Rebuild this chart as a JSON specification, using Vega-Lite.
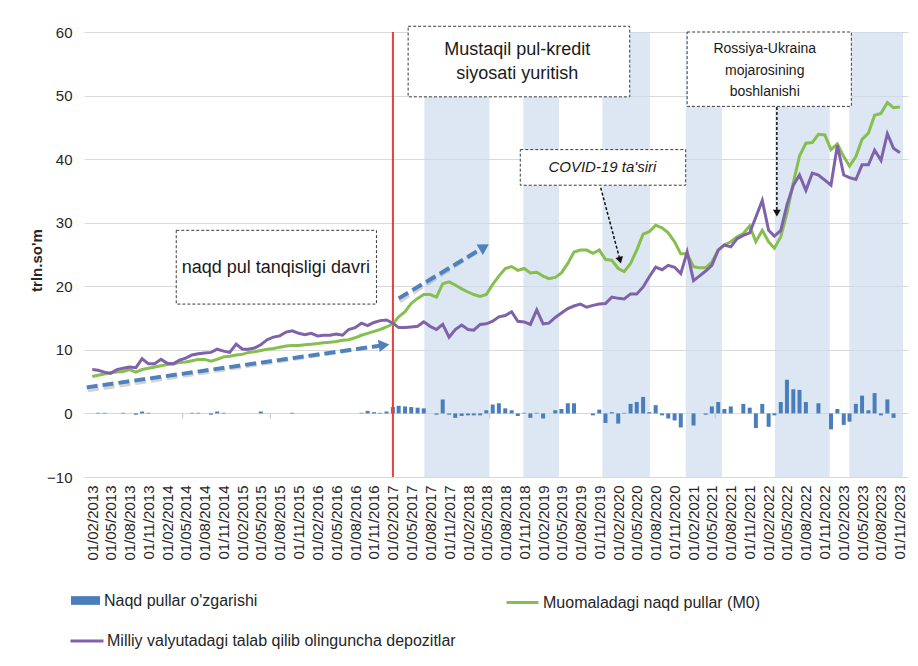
{
"$schema": "https://vega.github.io/schema/vega-lite/v6.json",
"width": 824, "height": 445,
"autosize": {"type": "none"},
"padding": {"left": 84, "top": 32, "right": 10, "bottom": 189},
"background": "white",
"config": {"font": "Liberation Sans", "view": {"stroke": null}},
"datasets": {"main": [
{"d":"2013-02-01","m0":5.8,"dep":6.9,"chg":0},
{"d":"2013-03-01","m0":6.0,"dep":6.8,"chg":0.1},
{"d":"2013-04-01","m0":6.2,"dep":6.5,"chg":0.1},
{"d":"2013-05-01","m0":6.4,"dep":6.3,"chg":0},
{"d":"2013-06-01","m0":6.5,"dep":6.9,"chg":0},
{"d":"2013-07-01","m0":6.6,"dep":7.1,"chg":0.1},
{"d":"2013-08-01","m0":6.9,"dep":7.3,"chg":0},
{"d":"2013-09-01","m0":6.5,"dep":7.2,"chg":-0.2},
{"d":"2013-10-01","m0":6.9,"dep":8.6,"chg":0.3},
{"d":"2013-11-01","m0":7.1,"dep":7.8,"chg":0.1},
{"d":"2013-12-01","m0":7.3,"dep":7.8,"chg":0},
{"d":"2014-01-01","m0":7.5,"dep":8.5,"chg":0},
{"d":"2014-02-01","m0":7.7,"dep":7.9,"chg":0},
{"d":"2014-03-01","m0":7.8,"dep":7.8,"chg":0},
{"d":"2014-04-01","m0":8.0,"dep":8.4,"chg":0},
{"d":"2014-05-01","m0":8.1,"dep":8.7,"chg":0},
{"d":"2014-06-01","m0":8.3,"dep":9.2,"chg":0.1},
{"d":"2014-07-01","m0":8.5,"dep":9.4,"chg":0.1},
{"d":"2014-08-01","m0":8.5,"dep":9.5,"chg":0},
{"d":"2014-09-01","m0":8.2,"dep":9.6,"chg":-0.2},
{"d":"2014-10-01","m0":8.5,"dep":10.1,"chg":0.3},
{"d":"2014-11-01","m0":8.9,"dep":9.8,"chg":0.1},
{"d":"2014-12-01","m0":9.0,"dep":9.6,"chg":0},
{"d":"2015-01-01","m0":9.2,"dep":10.9,"chg":0},
{"d":"2015-02-01","m0":9.3,"dep":10.1,"chg":0},
{"d":"2015-03-01","m0":9.6,"dep":10.1,"chg":0},
{"d":"2015-04-01","m0":9.7,"dep":10.3,"chg":0},
{"d":"2015-05-01","m0":9.9,"dep":10.8,"chg":0.3},
{"d":"2015-06-01","m0":10.1,"dep":11.6,"chg":0},
{"d":"2015-07-01","m0":10.2,"dep":12.0,"chg":0},
{"d":"2015-08-01","m0":10.4,"dep":12.2,"chg":0},
{"d":"2015-09-01","m0":10.6,"dep":12.8,"chg":0},
{"d":"2015-10-01","m0":10.7,"dep":13.0,"chg":0.1},
{"d":"2015-11-01","m0":10.7,"dep":12.6,"chg":0},
{"d":"2015-12-01","m0":10.8,"dep":12.4,"chg":0},
{"d":"2016-01-01","m0":10.9,"dep":12.6,"chg":0},
{"d":"2016-02-01","m0":11.0,"dep":12.2,"chg":0},
{"d":"2016-03-01","m0":11.1,"dep":12.3,"chg":0},
{"d":"2016-04-01","m0":11.2,"dep":12.3,"chg":0},
{"d":"2016-05-01","m0":11.3,"dep":12.5,"chg":0},
{"d":"2016-06-01","m0":11.5,"dep":12.3,"chg":0},
{"d":"2016-07-01","m0":11.6,"dep":13.2,"chg":0},
{"d":"2016-08-01","m0":11.9,"dep":13.5,"chg":0},
{"d":"2016-09-01","m0":12.3,"dep":14.2,"chg":0.1},
{"d":"2016-10-01","m0":12.6,"dep":13.8,"chg":0.4},
{"d":"2016-11-01","m0":12.9,"dep":14.3,"chg":0.2},
{"d":"2016-12-01","m0":13.2,"dep":14.6,"chg":0.1},
{"d":"2017-01-01","m0":13.6,"dep":14.7,"chg":0.3},
{"d":"2017-02-01","m0":14.1,"dep":14.2,"chg":1.0},
{"d":"2017-03-01","m0":15.2,"dep":13.5,"chg":1.2},
{"d":"2017-04-01","m0":16.0,"dep":13.5,"chg":1.1},
{"d":"2017-05-01","m0":17.3,"dep":13.6,"chg":1.0},
{"d":"2017-06-01","m0":18.1,"dep":13.7,"chg":0.9},
{"d":"2017-07-01","m0":18.7,"dep":14.4,"chg":0.8},
{"d":"2017-08-01","m0":18.7,"dep":13.7,"chg":0},
{"d":"2017-09-01","m0":18.3,"dep":13.2,"chg":-0.2},
{"d":"2017-10-01","m0":20.4,"dep":14.0,"chg":2.2},
{"d":"2017-11-01","m0":20.7,"dep":12.0,"chg":-0.2},
{"d":"2017-12-01","m0":20.2,"dep":13.2,"chg":-0.7},
{"d":"2018-01-01","m0":19.6,"dep":13.9,"chg":-0.4},
{"d":"2018-02-01","m0":19.1,"dep":13.2,"chg":-0.3},
{"d":"2018-03-01","m0":18.7,"dep":13.1,"chg":-0.3},
{"d":"2018-04-01","m0":18.4,"dep":14.0,"chg":-0.3},
{"d":"2018-05-01","m0":18.7,"dep":14.1,"chg":0.5},
{"d":"2018-06-01","m0":20.3,"dep":14.5,"chg":1.4},
{"d":"2018-07-01","m0":21.6,"dep":15.2,"chg":1.6},
{"d":"2018-08-01","m0":22.8,"dep":15.4,"chg":0.8},
{"d":"2018-09-01","m0":23.1,"dep":16.0,"chg":0.5},
{"d":"2018-10-01","m0":22.5,"dep":14.5,"chg":-0.4},
{"d":"2018-11-01","m0":22.8,"dep":14.4,"chg":0.1},
{"d":"2018-12-01","m0":22.1,"dep":14.0,"chg":-0.7},
{"d":"2019-01-01","m0":22.2,"dep":16.3,"chg":0.1},
{"d":"2019-02-01","m0":21.6,"dep":14.1,"chg":-0.8},
{"d":"2019-03-01","m0":21.2,"dep":14.2,"chg":0},
{"d":"2019-04-01","m0":21.4,"dep":15.1,"chg":0.5},
{"d":"2019-05-01","m0":22.1,"dep":15.8,"chg":0.7},
{"d":"2019-06-01","m0":23.6,"dep":16.5,"chg":1.6},
{"d":"2019-07-01","m0":25.4,"dep":16.9,"chg":1.6},
{"d":"2019-08-01","m0":25.7,"dep":17.2,"chg":0},
{"d":"2019-09-01","m0":25.7,"dep":16.7,"chg":0},
{"d":"2019-10-01","m0":25.2,"dep":17.0,"chg":-0.3},
{"d":"2019-11-01","m0":25.7,"dep":17.2,"chg":0.6},
{"d":"2019-12-01","m0":24.2,"dep":17.3,"chg":-1.5},
{"d":"2020-01-01","m0":24.1,"dep":18.3,"chg":0.2},
{"d":"2020-02-01","m0":22.8,"dep":18.1,"chg":-1.6},
{"d":"2020-03-01","m0":22.3,"dep":18.0,"chg":0.1},
{"d":"2020-04-01","m0":23.6,"dep":18.8,"chg":1.5},
{"d":"2020-05-01","m0":25.7,"dep":18.8,"chg":1.8},
{"d":"2020-06-01","m0":28.2,"dep":19.9,"chg":2.6},
{"d":"2020-07-01","m0":28.6,"dep":21.5,"chg":0.2},
{"d":"2020-08-01","m0":29.6,"dep":23.0,"chg":1.3},
{"d":"2020-09-01","m0":29.2,"dep":22.6,"chg":-0.3},
{"d":"2020-10-01","m0":28.4,"dep":23.3,"chg":-0.8},
{"d":"2020-11-01","m0":27.0,"dep":23.0,"chg":-1.1},
{"d":"2020-12-01","m0":25.1,"dep":22.0,"chg":-2.2},
{"d":"2021-01-01","m0":25.1,"dep":25.4,"chg":0},
{"d":"2021-02-01","m0":23.1,"dep":20.9,"chg":-1.9},
{"d":"2021-03-01","m0":22.9,"dep":21.6,"chg":0},
{"d":"2021-04-01","m0":22.9,"dep":22.4,"chg":-0.2},
{"d":"2021-05-01","m0":23.8,"dep":23.3,"chg":1.1},
{"d":"2021-06-01","m0":25.7,"dep":25.7,"chg":1.8},
{"d":"2021-07-01","m0":26.5,"dep":26.5,"chg":0.7},
{"d":"2021-08-01","m0":27.0,"dep":26.2,"chg":1.1},
{"d":"2021-09-01","m0":27.8,"dep":27.5,"chg":0},
{"d":"2021-10-01","m0":28.3,"dep":28.0,"chg":1.5},
{"d":"2021-11-01","m0":29.5,"dep":28.4,"chg":0.9},
{"d":"2021-12-01","m0":27.0,"dep":30.9,"chg":-2.3},
{"d":"2022-01-01","m0":28.8,"dep":33.5,"chg":1.5},
{"d":"2022-02-01","m0":27.0,"dep":28.8,"chg":-2.1},
{"d":"2022-03-01","m0":26.0,"dep":27.9,"chg":-0.3},
{"d":"2022-04-01","m0":27.8,"dep":28.8,"chg":1.8},
{"d":"2022-05-01","m0":31.5,"dep":32.8,"chg":5.3},
{"d":"2022-06-01","m0":36.3,"dep":35.9,"chg":3.8},
{"d":"2022-07-01","m0":40.5,"dep":37.5,"chg":3.7},
{"d":"2022-08-01","m0":42.5,"dep":35.1,"chg":1.8},
{"d":"2022-09-01","m0":42.6,"dep":37.8,"chg":0},
{"d":"2022-10-01","m0":43.9,"dep":37.5,"chg":1.6},
{"d":"2022-11-01","m0":43.8,"dep":36.7,"chg":0},
{"d":"2022-12-01","m0":41.5,"dep":35.9,"chg":-2.5},
{"d":"2023-01-01","m0":42.4,"dep":42.2,"chg":0.7},
{"d":"2023-02-01","m0":40.4,"dep":37.5,"chg":-1.8},
{"d":"2023-03-01","m0":38.9,"dep":37.1,"chg":-1.3},
{"d":"2023-04-01","m0":40.4,"dep":36.8,"chg":1.5},
{"d":"2023-05-01","m0":43.1,"dep":39.1,"chg":2.8},
{"d":"2023-06-01","m0":44.1,"dep":39.1,"chg":0.5},
{"d":"2023-07-01","m0":46.9,"dep":41.4,"chg":3.2},
{"d":"2023-08-01","m0":47.2,"dep":39.8,"chg":-0.3},
{"d":"2023-09-01","m0":48.9,"dep":44.0,"chg":2.2},
{"d":"2023-10-01","m0":48.1,"dep":41.7,"chg":-0.7},
{"d":"2023-11-01","m0":48.2,"dep":41.0,"chg":0}
]},
"data": {"name": "main"},
"layer": [
{"data": {"values": [{"a":"2017-07-04","b":"2018-05-16"},{"a":"2018-10-28","b":"2019-04-19"},{"a":"2019-11-16","b":"2020-07-04"},{"a":"2020-12-25","b":"2021-06-19"},{"a":"2022-03-04","b":"2022-11-25"},{"a":"2023-02-28","b":"2023-11-16"}]},
 "mark": {"type": "rect", "color": "#c9daed", "opacity": 0.65},
 "encoding": {
  "x": {"field": "a", "type": "temporal",
   "scale": {"type": "utc", "nice": false, "domain": [{"year": 2013, "month": 1, "date": 16, "utc": true}, {"year": 2023, "month": 11, "date": 16, "utc": true}]},
   "axis": {"title": null, "grid": false, "domain": false, "ticks": false, "labelAngle": -90, "labelFontSize": 15, "labelColor": "#262626", "labelPadding": 8, "labelOverlap": false, "labelFlush": false, "labelBound": false, "tickCount": {"interval": "month", "step": 1}, "labelExpr": "utcmonth(datum.value) % 3 == 1 ? utcFormat(datum.value, '%d/%m/%Y') : ''"}},
  "x2": {"field": "b"}}},
{"transform": [{"filter": "indexof(['02','05','08','11'], substring(datum.d, 5, 7)) >= 0"}],
 "mark": {"type": "rule", "color": "#bfbfbf", "strokeWidth": 1, "xOffset": -3},
 "encoding": {"x": {"field": "d", "type": "temporal"}, "y": {"datum": 0}, "y2": {"datum": -0.8}}},
{"mark": {"type": "bar", "size": 4},
 "encoding": {
  "x": {"field": "d", "type": "temporal"},
  "y": {"field": "chg", "type": "quantitative",
   "scale": {"domain": [-10, 60], "nice": false},
   "axis": {"title": "trln.so'm", "values": [-10, 0, 10, 20, 30, 40, 50, 60], "grid": true, "gridColor": "#d9d9d9", "domain": false, "ticks": false, "labelFontSize": 15, "labelColor": "#262626", "labelPadding": 12, "titleFontSize": 15, "titleFontWeight": "bold", "titleColor": "#262626", "titleX": -43, "titleY": 228, "titleBaseline": "alphabetic"}},
  "fill": {"datum": "Naqd pullar  o'zgarishi", "type": "nominal", "scale": {"range": ["#4a7ebb"]},
   "legend": {"orient": "none", "legendX": -13, "legendY": 554, "title": null, "symbolType": "M-1,-0.3H1V0.3H-1Z", "symbolSize": 841, "symbolStrokeWidth": 0, "labelFontSize": 16, "labelColor": "#262626", "labelOffset": 4, "labelLimit": 600, "padding": 0}}}},
{"data": {"values": [{"d": "2017-02-01"}]},
 "mark": {"type": "rule", "color": "#ee3b3b", "strokeWidth": 2},
 "encoding": {"x": {"field": "d", "type": "temporal"}}},
{"mark": {"type": "line", "strokeWidth": 3},
 "encoding": {
  "x": {"field": "d", "type": "temporal"},
  "y": {"field": "m0", "type": "quantitative"},
  "stroke": {"datum": "Muomaladagi naqd pullar (M0)", "type": "nominal", "scale": {"range": ["#86bf50"]},
   "legend": {"orient": "none", "legendX": 421, "legendY": 553, "title": null, "symbolType": "stroke", "symbolSize": 1024, "symbolStrokeWidth": 3, "labelFontSize": 16, "labelColor": "#262626", "labelOffset": 3, "labelLimit": 600, "padding": 0}}}},
{"mark": {"type": "line", "strokeWidth": 3},
 "encoding": {
  "x": {"field": "d", "type": "temporal"},
  "y": {"field": "dep", "type": "quantitative"},
  "color": {"datum": "Milliy valyutadagi talab qilib olinguncha depozitlar", "type": "nominal", "scale": {"range": ["#7f62aa"]},
   "legend": {"orient": "none", "legendX": -15, "legendY": 591, "title": null, "symbolType": "stroke", "symbolSize": 1089, "symbolStrokeWidth": 3, "labelFontSize": 16, "labelColor": "#262626", "labelOffset": 2, "labelLimit": 600, "padding": 0}}}},
{"data": {"values": [{"x1":"2013-01-05","y1":4.1,"x2":"2016-12-20","y2":10.74},{"x1":"2017-03-01","y1":18.1,"x2":"2018-04-21","y2":26.17}]},
 "mark": {"type": "rule", "color": "#7f7f7f", "opacity": 0.35, "strokeWidth": 4, "strokeDash": [11, 5], "xOffset": 1, "yOffset": 3},
 "encoding": {"x": {"field": "x1", "type": "temporal"}, "y": {"field": "y1", "type": "quantitative"}, "x2": {"field": "x2"}, "y2": {"field": "y2"}}},
{"data": {"values": [{"x1":"2013-01-05","y1":4.1,"x2":"2016-12-20","y2":10.74},{"x1":"2017-03-01","y1":18.1,"x2":"2018-04-21","y2":26.17}]},
 "mark": {"type": "rule", "color": "#4f81bd", "strokeWidth": 4, "strokeDash": [11, 5]},
 "encoding": {"x": {"field": "x1", "type": "temporal"}, "y": {"field": "y1", "type": "quantitative"}, "x2": {"field": "x2"}, "y2": {"field": "y2"}}},
{"data": {"values": [{"x": "2016-12-20", "y": 10.74}]},
 "mark": {"type": "point", "shape": "triangle-right", "filled": true, "size": 150, "color": "#4f81bd", "opacity": 1, "angle": 352},
 "encoding": {"x": {"field": "x", "type": "temporal"}, "y": {"field": "y", "type": "quantitative"}}},
{"data": {"values": [{"x": "2018-04-21", "y": 26.17}]},
 "mark": {"type": "point", "shape": "triangle-right", "filled": true, "size": 150, "color": "#4f81bd", "opacity": 1, "angle": 329},
 "encoding": {"x": {"field": "x", "type": "temporal"}, "y": {"field": "y", "type": "quantitative"}}},
{"data": {"values": [{"x1":"2014-03-16","x2":"2016-11-13","y1":28.8,"y2":17.2},{"x1":"2017-04-16","x2":"2020-03-28","y1":60.9,"y2":49.8},{"x1":"2018-10-13","x2":"2020-12-25","y1":41.5,"y2":35.9},{"x1":"2021-01-01","x2":"2023-03-10","y1":60.0,"y2":48.3}]},
 "mark": {"type": "rect", "fill": "white", "stroke": "#3a3a3a", "strokeWidth": 1, "strokeDash": [3, 2]},
 "encoding": {"x": {"field": "x1", "type": "temporal"}, "x2": {"field": "x2"}, "y": {"field": "y1", "type": "quantitative"}, "y2": {"field": "y2"}}},
{"data": {"values": [{"x":"2015-07-13","y":22.9,"t":"naqd pul tanqisligi davri"},{"x":"2018-09-28","y":57.2,"t":"Mustaqil pul-kredit"},{"x":"2018-09-28","y":53.4,"t":"siyosati yuritish"}]},
 "mark": {"type": "text", "fontSize": 18, "color": "#1a1a1a", "align": "center", "baseline": "middle"},
 "encoding": {"x": {"field": "x", "type": "temporal"}, "y": {"field": "y", "type": "quantitative"}, "text": {"field": "t"}}},
{"data": {"values": [{"x":"2019-11-16","y":38.7,"t":"COVID-19 ta'siri"}]},
 "mark": {"type": "text", "fontSize": 15, "fontStyle": "italic", "color": "#1a1a1a", "align": "center", "baseline": "middle"},
 "encoding": {"x": {"field": "x", "type": "temporal"}, "y": {"field": "y", "type": "quantitative"}, "text": {"field": "t"}}},
{"data": {"values": [{"x":"2022-01-13","y":57.3,"t":"Rossiya-Ukraina"},{"x":"2022-01-13","y":53.9,"t":"mojarosining"},{"x":"2022-01-13","y":50.5,"t":"boshlanishi"}]},
 "mark": {"type": "text", "fontSize": 14, "font": "Liberation Sans", "color": "#1a1a1a", "align": "center", "baseline": "middle"},
 "encoding": {"x": {"field": "x", "type": "temporal"}, "y": {"field": "y", "type": "quantitative"}, "text": {"field": "t"}}},
{"data": {"values": [{"x1":"2019-11-08","y1":35.5,"x2":"2020-02-10","y2":24.1},{"x1":"2022-03-13","y1":48.2,"x2":"2022-03-13","y2":31.5}]},
 "mark": {"type": "rule", "color": "#111111", "strokeWidth": 1.5, "strokeDash": [3, 2]},
 "encoding": {"x": {"field": "x1", "type": "temporal"}, "y": {"field": "y1", "type": "quantitative"}, "x2": {"field": "x2"}, "y2": {"field": "y2"}}},
{"data": {"values": [{"x": "2020-02-10", "y": 24.1}]},
 "mark": {"type": "point", "shape": "triangle-down", "filled": true, "size": 60, "color": "#111111", "opacity": 1, "angle": 345},
 "encoding": {"x": {"field": "x", "type": "temporal"}, "y": {"field": "y", "type": "quantitative"}}},
{"data": {"values": [{"x": "2022-03-13", "y": 31.5}]},
 "mark": {"type": "point", "shape": "triangle-down", "filled": true, "size": 60, "color": "#111111", "opacity": 1},
 "encoding": {"x": {"field": "x", "type": "temporal"}, "y": {"field": "y", "type": "quantitative"}}}
]
}
